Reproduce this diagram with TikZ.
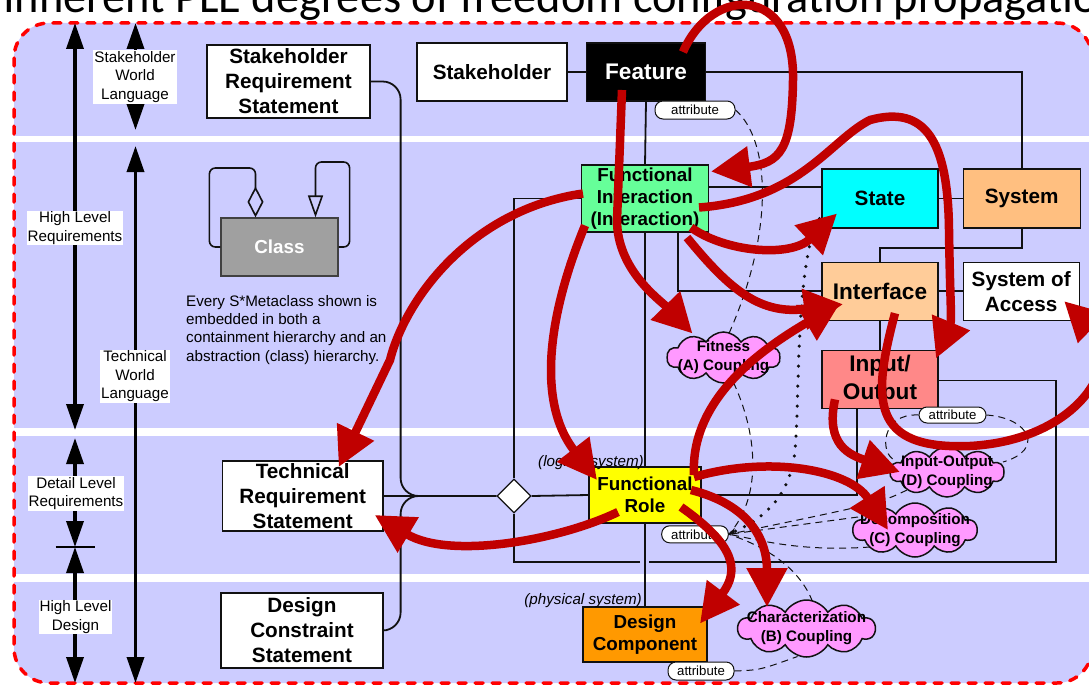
\documentclass[tikz,border=0pt]{standalone}
\usepackage{fontspec}
\setmainfont{Liberation Sans}
\newfontfamily\titlefont{Carlito}
\usepackage{tikz}
\usetikzlibrary{arrows.meta, calc, positioning, shapes.geometric, shapes.symbols}
\usepackage{xcolor}
\definecolor{Lavender}{HTML}{CCCCFF}
\definecolor{BorderRed}{HTML}{FF0000}
\definecolor{ArrowRed}{HTML}{C00000}
\definecolor{LineBlack}{HTML}{111111}
\definecolor{InteractionGreen}{HTML}{66FF99}
\definecolor{StateCyan}{HTML}{00FFFF}
\definecolor{SystemOrange}{HTML}{FFBF80}
\definecolor{InterfacePeach}{HTML}{FFCC99}
\definecolor{IOSalmon}{HTML}{FF8888}
\definecolor{RoleYellow}{HTML}{FFFF00}
\definecolor{ComponentOrange}{HTML}{FF9900}
\definecolor{CouplingPink}{HTML}{FF99FF}
\definecolor{ClassGray}{HTML}{A0A0A0}
\pgfdeclarelayer{bg}
\pgfdeclarelayer{lines}
\pgfsetlayers{bg,lines,main}
\tikzset{%
  title_text/.style={%
    inner sep=0pt,%
    font={\titlefont\fontsize{46.4}{50}\selectfont},%
  },
  area_border/.style={%
    draw=BorderRed,%
    line width=3.5pt,%
    line cap=round,%
    dash pattern=on 8pt off 9pt,%
    rounded corners=35pt,%
  },
  lvl_arrow/.style={%
    line width=3.5pt,%
    {Triangle[length=26pt,width=17pt]}-{Triangle[length=26pt,width=17pt]},%
  },
  lvl_tick/.style={%
    line width=1.2pt,%
  },
  lvl_label/.style={%
    fill=white,%
    inner sep=1pt,%
    align=center,%
    font={\fontsize{15.2}{18.5}\selectfont},%
  },
  note_text/.style={%
    inner sep=0pt,%
    align=left,%
    font={\fontsize{15.2}{18.3}\selectfont},%
  },
  sys_note/.style={%
    inner sep=0pt,%
    font={\fontsize{15.2}{18}\selectfont\itshape},%
  },
  fs_large/.style={font={\fontsize{22.6}{28}\selectfont\bfseries}},
  fs_mid/.style={font={\fontsize{20.7}{25}\selectfont\bfseries}},
  fs_small/.style={font={\fontsize{18.8}{22.3}\selectfont\bfseries}},
  stmt_block/.style={%
    rectangle,%
    draw=LineBlack,%
    line width=1.2pt,%
    fill=white,%
    inner sep=0pt,%
    align=center,%
    fs_mid,%
  },
  meta_block/.style={%
    rectangle,%
    draw=LineBlack,%
    line width=1.2pt,%
    inner sep=0pt,%
    align=center,%
    fs_mid,%
  },
  class_block/.style={%
    rectangle,%
    draw=LineBlack!80,%
    line width=1.2pt,%
    fill=ClassGray,%
    text=white,%
    inner sep=0pt,%
    fs_small,%
  },
  agg_diamond/.style={%
    diamond,%
    draw=LineBlack,%
    line width=1.2pt,%
    fill=white,%
    inner sep=0pt,%
    minimum width=34pt,%
    minimum height=34pt,%
  },
  attr_pill/.style={%
    rectangle,%
    rounded corners=8pt,%
    draw=LineBlack,%
    line width=1pt,%
    fill=white,%
    inner sep=0pt,%
    font={\fontsize{13.2}{15}\selectfont},%
  },
  coupling/.style={%
    cloud,%
    cloud puffs=10,%
    cloud puff arc=120,%
    cloud ignores aspect,%
    draw=LineBlack,%
    line width=1.5pt,%
    fill=CouplingPink,%
    inner sep=0pt,%
  },
  coupling_text/.style={%
    inner sep=0pt,%
    align=center,%
    font={\fontsize{15.2}{19}\selectfont\bfseries},%
  },
  conn/.style={%
    draw=LineBlack,%
    line width=1.8pt,%
  },
  attr_link/.style={%
    draw=LineBlack,%
    line width=1pt,%
    dash pattern=on 7pt off 5pt,%
  },
  dot_link/.style={%
    draw=LineBlack,%
    line width=3.5pt,%
    line cap=round,%
    dash pattern=on 0pt off 10pt,%
  },
  red_arrow/.style={%
    draw=ArrowRed,%
    line width=8.5pt,%
    -{Triangle[length=39pt,width=39pt]},%
  },
}

\begin{document}
\begin{tikzpicture}[x=1pt, y=-1pt]
  \useasboundingbox (0,0) rectangle (1089,685);

  % background and bands
  \begin{pgfonlayer}{bg}
    \fill[Lavender, rounded corners=35pt] (14,23) rectangle (1092,683);
    \fill[white] (14,136) rectangle (1092,142);
    \fill[white] (14,427.5) rectangle (1092,435.5);
    \fill[white] (14,573.5) rectangle (1092,581.5);
    \draw[area_border] (14,23) rectangle (1092,683);
  \end{pgfonlayer}

  \node [title_text, anchor=base west] (title) at (3,13)
    {Inherent PLE degrees of freedom configuration propagation};

  % level scales
  \coordinate (hlr_top) at (75,23);
  \coordinate (hlr_bot) at (75,430);
  \coordinate (dlr_top) at (75,438);
  \coordinate (dlr_bot) at (75,547);
  \coordinate (hld_bot) at (75,683);
  \coordinate (swl_top) at (135.5,23);
  \coordinate (swl_bot) at (135.5,130);
  \coordinate (twl_top) at (135.5,146);
  \coordinate (twl_bot) at (135.5,683);

  \draw [lvl_arrow] (hlr_top) -- (hlr_bot);
  \draw [lvl_arrow] (dlr_top) -- (dlr_bot);
  \draw [lvl_arrow] (dlr_bot) -- (hld_bot);
  \draw [lvl_arrow] (swl_top) -- (swl_bot);
  \draw [lvl_arrow] (twl_top) -- (twl_bot);
  \draw [lvl_tick] ([xshift=-19.5pt]dlr_bot) -- ([xshift=19.5pt]dlr_bot);

  \node [lvl_label] (hlr) at (75,228) {High Level\\Requirements};
  \node [lvl_label] (dlr) at (76,493.5) {Detail Level\\Requirements};
  \node [lvl_label] (hld) at (75.5,617) {High Level\\Design};
  \node [lvl_label] (swl) at (135,77) {Stakeholder\\World\\Language};
  \node [lvl_label] (twl) at (135,376.5) {Technical\\World\\Language};

  % class legend
  \node [class_block, minimum width=117pt, minimum height=58pt] (Class) at (279.5,247) {Class};
  \draw [conn, line width=1.6pt, rounded corners=6pt, -{Diamond[open, length=31pt, width=16pt]}]
    (Class.west) -- ++(-11,0) -- ++(0,-79) -| ([xshift=-24pt]Class.north);
  \draw [conn, line width=1.6pt, rounded corners=6pt, -{Triangle[open, length=22pt, width=15pt]}]
    (Class.east) -- ++(11,0) -- ++(0,-85) -| ([xshift=36pt]Class.north);
  \node [note_text, anchor=north west] (note) at (186,295)
    {Every S*Metaclass shown is\\embedded in both a\\containment hierarchy and an\\abstraction (class) hierarchy.};

  % statements
  \node [stmt_block, minimum width=163pt, minimum height=73pt] (SRS) at (288.5,81.5) {Stakeholder\\Requirement\\Statement};
  \node [stmt_block, minimum width=160.5pt, minimum height=70pt] (TRS) at (302.75,496) {Technical\\Requirement\\Statement};
  \node [stmt_block, minimum width=162pt, minimum height=75pt] (DCS) at (302,630.5) {Design\\Constraint\\Statement};

  % metaclasses
  \node [stmt_block, minimum width=150pt, minimum height=58pt] (Stakeholder) at (492,72) {Stakeholder};
  \node [meta_block, fs_large, fill=black, text=white, minimum width=118.4pt, minimum height=58pt,
    right=18.6pt of Stakeholder] (Feature) {Feature};
  \node [meta_block, fs_small, fill=InteractionGreen, minimum width=126.5pt, minimum height=67pt] (FI)
    at (645,198.5) {Functional\\Interaction\\(Interaction)};
  \node [meta_block, fill=StateCyan, minimum width=116pt, minimum height=59pt] (State) at (880,198.5) {State};
  \node [meta_block, fill=SystemOrange, minimum width=117pt, minimum height=59pt, right=24pt of State] (System) {System};
  \node [meta_block, fs_large, fill=InterfacePeach, minimum width=116pt, minimum height=58pt,
    below=33pt of State] (Interface) {Interface};
  \node [meta_block, fill=white, minimum width=116pt, minimum height=58pt, right=24pt of Interface] (SoA) {System of\\Access};
  \node [meta_block, fs_large, fill=IOSalmon, minimum width=116pt, minimum height=58pt,
    below=29pt of Interface] (IO) {Input/\\Output};
  \node [meta_block, fs_small, fill=RoleYellow, minimum width=112pt, minimum height=56pt] (FR) at (645,495) {Functional\\Role};
  \node [meta_block, fs_small, fill=ComponentOrange, minimum width=124pt, minimum height=55pt] (DC) at (645,634.5) {Design\\Component};
  \node [agg_diamond] (agg) at (514,496) {};

  \node [sys_note, anchor=base east] (logical) at (644,466.5) {(logical system)};
  \node [sys_note, anchor=base east] (physical) at (642,604.5) {(physical system)};

  % attributes
  \node [attr_pill, minimum width=80pt, minimum height=18pt] (feature_attr) at (695,110) {attribute};
  \node [attr_pill, minimum width=67pt, minimum height=16pt] (io_attr) at (952.5,415) {attribute};
  \node [attr_pill, minimum width=66.6pt, minimum height=17pt] (role_attr) at (695,534.3) {attribute};
  \node [attr_pill, minimum width=66pt, minimum height=18pt] (component_attr) at (701,671) {attribute};

  % couplings
  \node [coupling, minimum width=113pt, minimum height=51pt] (fitness) at (723.5,357.5) {};
  \node [coupling_text] (fitness_text) at (fitness) {Fitness\\(A) Coupling};
  \node [coupling, minimum width=114pt, minimum height=50pt] (io_coupling) at (947,472) {};
  \node [coupling_text] (io_coupling_text) at (io_coupling) {Input-Output\\(D) Coupling};
  \node [coupling, minimum width=124pt, minimum height=54pt] (decomp) at (915,530) {};
  \node [coupling_text] (decomp_text) at (decomp) {Decomposition\\(C) Coupling};
  \node [coupling, minimum width=137pt, minimum height=57pt] (charact) at (806.5,628.5) {};
  \node [coupling_text] (charact_text) at (charact) {Characterization\\(B) Coupling};

  % black connectors
  \begin{pgfonlayer}{lines}
    \coordinate (loop_corner) at (1056,562);
    \coordinate (hop_right) at (649,562);
    \coordinate (hop_left) at (640,562);
    \draw [conn] (Stakeholder.east) -- (Feature.west);
    \draw [conn] (Feature.east) -| (System.north);
    \draw [conn] (Feature.south) -- (FI.north);
    \draw [conn] (FI.south) -- (FR.north);
    \draw [conn] (FR.south) -- (DC.north);
    \draw [conn] ([yshift=11.5pt]FI.east) -- ([yshift=11.5pt]FI.east -| State.west);
    \draw [conn] (State.east) -- (System.west);
    \draw [conn] (System.south) -- ++(0,19) -| (Interface.north);
    \draw [conn] (Interface.east) -- (SoA.west);
    \draw [conn] ([xshift=33pt]FI.south) |- (Interface.west);
    \draw [conn] (Interface.south) -- (IO.north);
    \draw [conn] ([xshift=-23pt]IO.south) |- (FR.east);
    \draw [conn] ([yshift=-1pt]IO.east) -| (loop_corner) -- (hop_right);
    \draw [conn] (hop_left) -| (agg.south);
    \draw [conn] (agg.north) |- (FI.west);
    \draw [conn] (agg.east) -- (FR.west);
    \draw [conn] (TRS.east) -- (agg.west);
    \draw [conn, rounded corners=18pt] (SRS.east) -- ++(30,0) |- (agg.west);
    \draw [conn, rounded corners=18pt] (DCS.east) -- ++(17,0) |- (agg.west);
  \end{pgfonlayer}

  % attribute links
  \draw [attr_link] (feature_attr.east) .. controls (770,140) and (775,230) .. ($(fitness)+(5,-23)$);
  \draw [attr_link] ($(fitness)+(10,25)$) .. controls (760,440) and (760,500) .. (role_attr.east);
  \draw [attr_link] ($(io_coupling)+(-40,18)$) .. controls (880,503) .. (role_attr.east);
  \draw [attr_link] ($(decomp)+(-57,-13)$) -- (role_attr.east);
  \draw [attr_link] ($(decomp)+(-45,17)$) .. controls (800,552) and (760,540) .. (role_attr.east);
  \draw [attr_link] ($(charact)+(6,-27)$) .. controls (800,570) and (770,548) .. (role_attr.east);
  \draw [attr_link] (io_attr.west) .. controls (880,413) and (880,455) .. ($(io_coupling)+(-52,-12)$);
  \draw [attr_link] (io_attr.east) .. controls (1030,418) and (1045,450) .. ($(io_coupling)+(56,-10)$);
  \draw [attr_link] (component_attr.east) .. controls (760,670) .. ($(charact)+(-9,28)$);
  \draw [dot_link, -{Stealth[length=8pt, width=7pt]}]
    ($(State.south west)+(-2,-10)$) .. controls (795,260) and (800,400) .. (795,450)
    .. controls (790,500) and (760,520) .. (role_attr.east);

  % propagation
  \draw [red_arrow] ($(Feature)+(37,-20)$) .. controls (712,-15) and (795,-15) .. (793,80)
    .. controls (792,150) and (780,163) .. ($(FI)+(66,-27)$);
  \draw [red_arrow] ($(Feature)+(-24,18)$) -- (617,220) .. controls (617,270) and (660,300) .. ($(fitness)+(-31,-24)$);
  \draw [red_arrow] ($(FI)+(-62,-5)$) .. controls (470,210) and (405,300) .. (390,360) -- ($(TRS)+(36,-29)$);
  \draw [red_arrow] ($(FI)+(-60,27)$) .. controls (550,310) and (535,400) .. ($(FR)+(-48,-15)$);
  \draw [red_arrow] ($(FI)+(54,9)$) .. controls (800,200) and (830,140) .. (870,120)
    .. controls (925,105) and (948,140) .. (949,230) .. controls (950,300) and (952,320) .. ($(IO)+(56,-21)$);
  \draw [red_arrow] ($(FI)+(46,29)$) .. controls (725,252) and (790,258) .. ($(State)+(-43,15)$);
  \draw [red_arrow] ($(FI)+(42,39)$) .. controls (730,290) and (760,315) .. ($(Interface)+(-37,13)$);
  \draw [red_arrow] ($(Interface)+(15,22)$) .. controls (872,400) and (870,450) .. (970,446)
    .. controls (1080,440) and (1125,360) .. ($(SoA)+(43,10)$);
  \draw [red_arrow] ($(IO)+(-45,20)$) .. controls (825,445) and (850,455) .. ($(io_coupling)+(-47,0)$);
  \draw [red_arrow] ($(FR)+(49,-20)$) .. controls (690,400) and (760,350) .. ($(Interface)+(-40,12)$);
  \draw [red_arrow] ($(FR)+(49,-18)$) .. controls (770,455) and (850,470) .. ($(decomp)+(-27,0)$);
  \draw [red_arrow] ($(FR)+(46,-5)$) .. controls (750,505) and (767,540) .. ($(charact)+(-39.5,-21.5)$);
  \draw [red_arrow] ($(FR)+(36,12)$) .. controls (735,545) and (740,570) .. ($(DC)+(55,-11)$);
  \draw [red_arrow] ($(FR)+(-27,17)$) .. controls (560,540) and (450,560) .. ($(TRS)+(72,19)$);
\end{tikzpicture}
\end{document}
